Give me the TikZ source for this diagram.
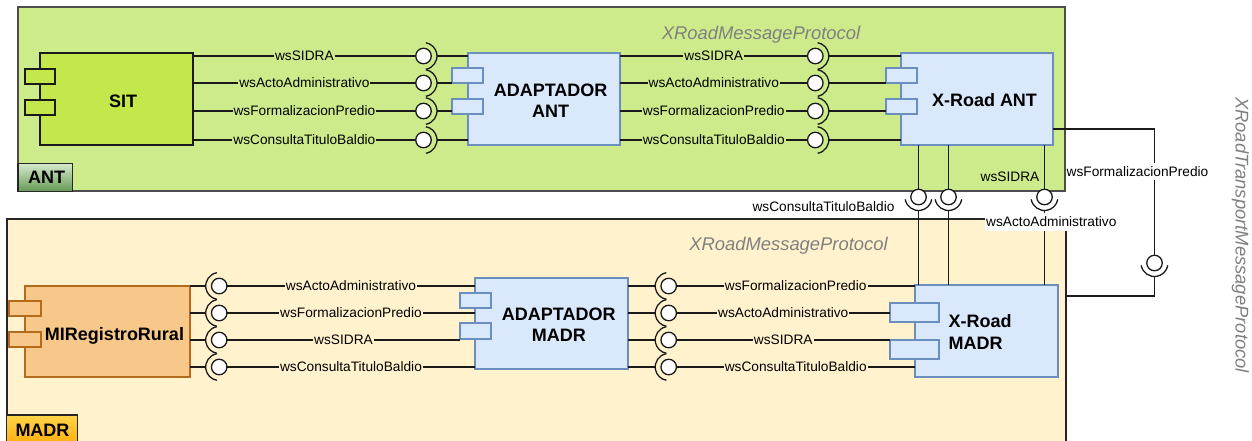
\documentclass[tikz,border=0pt]{standalone}
\usepackage{fontspec}
\setmainfont{Liberation Sans}
\usetikzlibrary{calc}
\definecolor{antbg}{HTML}{CDEB8B}
\definecolor{madrbg}{HTML}{FFF2CC}
\definecolor{sitfill}{HTML}{C4E84C}
\definecolor{blfill}{HTML}{DAE8FC}
\definecolor{bldraw}{HTML}{6C8EBF}
\definecolor{orfill}{HTML}{F8C78A}
\definecolor{ordraw}{HTML}{B46C1C}
\definecolor{protogray}{HTML}{808080}
\definecolor{lnc}{HTML}{1A1A1A}
\definecolor{antcb}{HTML}{4D4D4D}
\definecolor{madrcb}{HTML}{262626}
\definecolor{antbtop}{HTML}{D6EACC}
\definecolor{antbbot}{HTML}{669955}
\definecolor{madrbtop}{HTML}{FFD54A}
\definecolor{madrbbot}{HTML}{FFA500}
\newcommand{\sockR}[1]{\draw[sockst] ([shift={(-80:13.5pt)}]#1.center) arc[start angle=-80, end angle=80, radius=13.5pt];}
\newcommand{\sockL}[1]{\draw[sockst] ([shift={(100:13.5pt)}]#1.center) arc[start angle=100, end angle=260, radius=13.5pt];}
\newcommand{\sockD}[1]{\draw[sockst] ([shift={(-170:13.5pt)}]#1.center) arc[start angle=-170, end angle=-10, radius=13.5pt];}
\tikzset{
  box/.style={draw, line width=1.2pt, anchor=north west, inner sep=0pt, outer sep=0pt},
  sitbox/.style={box, draw=lnc, fill=sitfill},
  blbox/.style={box, draw=bldraw, fill=blfill},
  orbox/.style={box, draw=ordraw, fill=orfill},
  ball/.style={circle, draw=lnc, fill=white, line width=1.3pt, minimum size=15.5pt, inner sep=0pt, outer sep=0pt},
  sockst/.style={draw=lnc, line width=1.3pt},
  ln/.style={draw=lnc, line width=1.2pt},
  lab/.style={font=\fontsize{13.7}{15}\selectfont, inner xsep=1pt, inner ysep=1.5pt, text=black},
  bold/.style={font=\fontsize{18}{20}\selectfont\bfseries, inner sep=0pt},
  proto/.style={font=\fontsize{18.4}{20}\selectfont\itshape, text=protogray, inner sep=0pt},
}
\begin{document}
\begin{tikzpicture}[x=1pt, y=-1pt]
\useasboundingbox (0,0) rectangle (1252,440);
% containers
\node[box, draw=antcb, line width=1.5pt, fill=antbg, minimum width=1047pt, minimum height=184pt] (antc) at (18,7) {};
\node[box, draw=madrcb, line width=1.6pt, fill=madrbg, minimum width=1059pt, minimum height=240pt] (madrc) at (7,219) {};
% protocol labels
\node[proto, anchor=base] (pa) at (761,39.3) {XRoadMessageProtocol};
\node[proto, anchor=base] (pm) at (788.5,250.7) {XRoadMessageProtocol};
\node[proto, anchor=base, rotate=-90] (pt) at (1235.5,235) {XRoadTransportMessageProtocol};
% balls
\foreach \n/\y in {1/56,2/83,3/111,4/140}{
  \node[ball] (ba\n) at (423.5,\y) {};
  \node[ball] (bb\n) at (815.3,\y) {};
}
\foreach \n/\y in {1/286,2/313,3/340,4/367}{
  \node[ball] (bc\n) at (219.2,\y) {};
  \node[ball] (bd\n) at (668.7,\y) {};
}
\node[ball] (bv1) at (918.5,197) {};
\node[ball] (bv2) at (948.5,197) {};
\node[ball] (bv3) at (1044.5,197) {};
\node[ball] (bv4) at (1154.5,263) {};
% components
\node[sitbox, minimum width=153pt, minimum height=92pt] (sit) at (40,53) {};
\node[sitbox, minimum width=30pt, minimum height=15pt] (sitt1) at (25,69) {};
\node[sitbox, minimum width=30pt, minimum height=15pt] (sitt2) at (25,100) {};
\node[bold, anchor=base] (sitl) at (123,107.3) {SIT};

\node[blbox, minimum width=152pt, minimum height=92pt] (ada) at (468,53) {};
\node[blbox, minimum width=31pt, minimum height=15pt] (adat1) at (452,68) {};
\node[blbox, minimum width=31pt, minimum height=15pt] (adat2) at (452,99) {};
\node[bold, anchor=base] (adal1) at (550.6,96.7) {ADAPTADOR};
\node[bold, anchor=base] (adal2) at (550.6,117.3) {ANT};

\node[blbox, minimum width=152pt, minimum height=92pt] (xra) at (901,53) {};
\node[blbox, minimum width=31pt, minimum height=15pt] (xrat1) at (886,68) {};
\node[blbox, minimum width=31pt, minimum height=15pt] (xrat2) at (886,99) {};
\node[bold, anchor=base] (xral) at (984.5,106.7) {X-Road ANT};

\node[orbox, minimum width=165pt, minimum height=91pt] (mir) at (25,286) {};
\node[orbox, minimum width=32pt, minimum height=15pt] (mirt1) at (9,301) {};
\node[orbox, minimum width=32pt, minimum height=15pt] (mirt2) at (9,332) {};
\node[bold, anchor=base] (mirl) at (114.5,340) {MIRegistroRural};

\node[blbox, minimum width=153pt, minimum height=91pt] (adm) at (475,278) {};
\node[blbox, minimum width=31pt, minimum height=15pt] (admt1) at (460,293) {};
\node[blbox, minimum width=31pt, minimum height=16pt] (admt2) at (460,323) {};
\node[bold, anchor=base] (adml1) at (558.8,320) {ADAPTADOR};
\node[bold, anchor=base] (adml2) at (558.8,341.7) {MADR};

\node[blbox, minimum width=143pt, minimum height=92pt] (xrm) at (915,285) {};
\node[blbox, minimum width=49pt, minimum height=19pt] (xrmt1) at (890,303) {};
\node[blbox, minimum width=49pt, minimum height=19pt] (xrmt2) at (890,340) {};
\node[bold, anchor=base west] (xrml1) at (948.3,327.7) {X-Road};
\node[bold, anchor=base west] (xrml2) at (948.3,349.3) {MADR};

% badges
\node[box, draw=madrcb, top color=antbtop, bottom color=antbbot, minimum width=54.5pt, minimum height=28.3pt] (antb) at (18,163.3) {};
\node[bold, anchor=base] (antbl) at (46.7,183.3) {ANT};
\node[box, draw=madrcb, top color=madrbtop, bottom color=madrbbot, minimum width=71pt, minimum height=35pt] (madrb) at (6.5,415) {};
\node[bold, anchor=base] (madrbl) at (42.5,436.7) {MADR};

% SIT -> ADAPTADOR ANT
\draw[ln] (sit.east |- ba1) -- node[lab, fill=antbg]{wsSIDRA} (ba1);
\draw[ln] (sit.east |- ba2) -- node[lab, fill=antbg]{wsActoAdministrativo} (ba2);
\draw[ln] (sit.east |- ba3) -- node[lab, fill=antbg]{wsFormalizacionPredio} (ba3);
\draw[ln] (sit.east |- ba4) -- node[lab, fill=antbg]{wsConsultaTituloBaldio} (ba4);
\foreach \n in {1,...,4}{\sockR{ba\n}}
\draw[ln] ([xshift=13.5pt]ba1.center) -- (ada.west |- ba1);
\draw[ln] ([xshift=13.5pt]ba2.center) -- (adat1.west |- ba2);
\draw[ln] ([xshift=13.5pt]ba3.center) -- (adat2.west |- ba3);
\draw[ln] ([xshift=13.5pt]ba4.center) -- (ada.west |- ba4);
% ADAPTADOR ANT -> X-Road ANT
\draw[ln] (ada.east |- bb1) -- node[lab, fill=antbg]{wsSIDRA} (bb1);
\draw[ln] (ada.east |- bb2) -- node[lab, fill=antbg]{wsActoAdministrativo} (bb2);
\draw[ln] (ada.east |- bb3) -- node[lab, fill=antbg]{wsFormalizacionPredio} (bb3);
\draw[ln] (ada.east |- bb4) -- node[lab, fill=antbg]{wsConsultaTituloBaldio} (bb4);
\foreach \n in {1,...,4}{\sockR{bb\n}}
\draw[ln] ([xshift=13.5pt]bb1.center) -- (xra.west |- bb1);
\draw[ln] ([xshift=13.5pt]bb2.center) -- (xrat1.west |- bb2);
\draw[ln] ([xshift=13.5pt]bb3.center) -- (xrat2.west |- bb3);
\draw[ln] ([xshift=13.5pt]bb4.center) -- (xra.west |- bb4);
% MIRegistroRural -> ADAPTADOR MADR
\foreach \n in {1,...,4}{\draw[ln] (mir.east |- bc\n) -- ([xshift=-13.5pt]bc\n.center); \sockL{bc\n}}
\draw[ln] (bc1) -- node[lab, fill=madrbg]{wsActoAdministrativo} (adm.west |- bc1);
\draw[ln] (bc2) -- node[lab, fill=madrbg]{wsFormalizacionPredio} (adm.west |- bc2);
\draw[ln] (bc3) -- node[lab, fill=madrbg]{wsSIDRA} (admt2.west |- bc3);
\draw[ln] (bc4) -- node[lab, fill=madrbg]{wsConsultaTituloBaldio} (adm.west |- bc4);
% ADAPTADOR MADR -> X-Road MADR
\foreach \n in {1,...,4}{\draw[ln] (adm.east |- bd\n) -- ([xshift=-13.5pt]bd\n.center); \sockL{bd\n}}
\draw[ln] (bd1) -- node[lab, fill=madrbg]{wsFormalizacionPredio} (xrm.west |- bd1);
\draw[ln] (bd2) -- node[lab, fill=madrbg]{wsActoAdministrativo} (xrmt1.west |- bd2);
\draw[ln] (bd3) -- node[lab, fill=madrbg]{wsSIDRA} (xrmt2.west |- bd3);
\draw[ln] (bd4) -- node[lab, fill=madrbg]{wsConsultaTituloBaldio} (xrm.west |- bd4);
% X-Road ANT <-> X-Road MADR
\foreach \n in {1,2,3}{
  \draw[ln] (xra.south -| bv\n) -- (bv\n);
  \sockD{bv\n}
  \draw[ln] ([yshift=-13.5pt]bv\n.center) -- (xrm.north -| bv\n);
}
\coordinate (lpy) at (0,129);
\coordinate (lpz) at (0,296);
\draw[ln] (xra.east |- lpy) -| (bv4);
\sockD{bv4}
\draw[ln] ([yshift=-13.5pt]bv4.center) |- (madrc.east |- lpz);
% free labels
\node[lab] (lcons) at (823.5,207) {wsConsultaTituloBaldio};
\node[lab] (lsid) at (1010,177) {wsSIDRA};
\node[lab, fill=white, inner ysep=3.75pt] (lacto) at (1051.3,222) {wsActoAdministrativo};
\node[lab, fill=white, inner ysep=3.75pt] (lform) at (1137.5,171.5) {wsFormalizacionPredio};
\end{tikzpicture}
\end{document}
